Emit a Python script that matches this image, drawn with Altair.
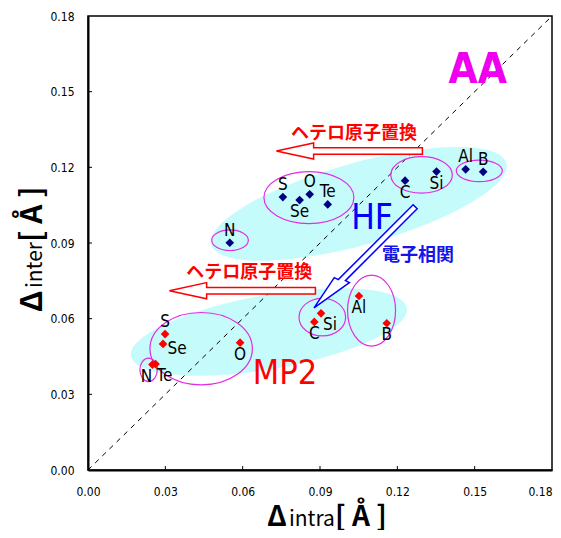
import altair as alt
import pandas as pd

# ---------------- data ----------------
elements = ["S", "Se", "O", "Te", "N", "C", "Si", "Al", "B"]
hf_x = [0.0756, 0.0821, 0.0860, 0.0930, 0.0550, 0.1230, 0.1352, 0.1465, 0.1533]
hf_y = [0.1082, 0.1070, 0.1093, 0.1053, 0.0901, 0.1147, 0.1183, 0.1192, 0.1182]
hf_label_pos = ["above", "below", "above", "above", "above", "below", "below", "above", "above"]
mp2_x = [0.0299, 0.0291, 0.0590, 0.0262, 0.0250, 0.0878, 0.0904, 0.1051, 0.1159]
mp2_y = [0.0539, 0.0500, 0.0505, 0.0420, 0.0418, 0.0587, 0.0621, 0.0690, 0.0582]
mp2_label_pos = ["above", "right", "below", "belowright", "belowleft", "below", "belowright", "below", "below"]
tick_values = [0.00, 0.03, 0.06, 0.09, 0.12, 0.15, 0.18]

# ---------------- layout / style ----------------
W, H = 464, 454
NARROW = "Liberation Sans Narrow, DejaVu Sans Condensed, Arial Narrow, sans-serif"
JP = "Noto Sans CJK JP"
xs = alt.Scale(domain=[0, 0.18], nice=False, zero=False)
ys = alt.Scale(domain=[0, 0.18], nice=False, zero=False)
AX_X = alt.Axis(values=tick_values, format=".2f", title=None, labelPadding=16, grid=False,
                ticks=False, labelFlush=False,
                labelAlign=alt.expr("datum.value >= 0.179 ? 'right' : 'center'"))
AX_Y = alt.Axis(values=tick_values, format=".2f", title=None, labelPadding=14, grid=False,
                ticks=False, labelFlush=False)


def ellipse_path(ratio):
    k = 0.5523
    r = ratio
    return (f"M -1 0 C -1 {-k*r:.4f} {-k:.4f} {-r:.4f} 0 {-r:.4f} "
            f"C {k:.4f} {-r:.4f} 1 {-k*r:.4f} 1 0 "
            f"C 1 {k*r:.4f} {k:.4f} {r:.4f} 0 {r:.4f} "
            f"C {-k:.4f} {r:.4f} -1 {k*r:.4f} -1 0 Z")


# annotation shapes (centre in data units, semi-axes in px, rotation in deg)
cyan_ell = pd.DataFrame({
    "x": [0.1051, 0.0702], "y": [0.1055, 0.0547],
    "a": [153, 140], "b": [41, 37], "ang": [344.5, 350.0]})
mag_ell = pd.DataFrame({
    "x": [0.0857, 0.1294, 0.1518, 0.0551, 0.0439, 0.0235, 0.0909, 0.1100],
    "y": [0.1080, 0.1170, 0.1186, 0.0911, 0.0481, 0.0397, 0.0606, 0.0632],
    "a": [45, 30.8, 23, 18.3, 51.2, 8.7, 23.3, 24],
    "b": [26, 18.3, 10.8, 10.3, 36.2, 11.7, 18.8, 35.5],
    "ang": [0, 0, 0, 0, 0, 0, 0, 0]})
for df in (cyan_ell, mag_ell):
    df["path"] = [ellipse_path(b / a) for a, b in zip(df["a"], df["b"])]
    df["size"] = [(2 * a) ** 2 for a in df["a"]]

red_arrow_path = ("M -1 0 L -0.49 -0.11 L -0.49 -0.045 L 1 -0.045 L 1 0.045 "
                  "L -0.49 0.045 L -0.49 0.11 Z")
blue_arrow_path = ("M -1 -0.04 L 0.42 -0.04 L 0.40 -0.10 L 1 0 L 0.50 0.10 "
                   "L 0.48 0.04 L -1 0.04 Z")
red_arrows = pd.DataFrame({"x": [0.1014, 0.0599], "y": [0.1265, 0.0711]})
blue_arrow = pd.DataFrame({"x": [0.1073], "y": [0.0843]})

offsets = {"above": (0, -12), "below": (0, 12), "right": (14, 5),
           "belowleft": (-6, 12), "belowright": (9, 12)}

pts = pd.concat([
    pd.DataFrame({"el": elements, "x": hf_x, "y": hf_y, "pos": hf_label_pos, "s": "HF"}),
    pd.DataFrame({"el": elements, "x": mp2_x, "y": mp2_y, "pos": mp2_label_pos, "s": "MP2"}),
], ignore_index=True)


def X(f="x"):
    return alt.X(f"{f}:Q", scale=xs, axis=AX_X)


def Y(f="y"):
    return alt.Y(f"{f}:Q", scale=ys, axis=AX_Y)


layers = []

# cyan ellipses
layers.append(alt.Chart(cyan_ell).mark_point(filled=True, color="#c6fbfb", opacity=1, strokeWidth=0).encode(
    x=X(), y=Y(),
    shape=alt.Shape("path:N", scale=None),
    size=alt.Size("size:Q", scale=None),
    angle=alt.Angle("ang:Q", scale=None)))

# diagonal dashed line
diag = pd.DataFrame({"x": [tick_values[0], tick_values[-1]], "y": [tick_values[0], tick_values[-1]]})
layers.append(alt.Chart(diag).mark_line(color="black", strokeWidth=1, strokeDash=[5, 5]).encode(x=X(), y=Y()))

# magenta ellipses
layers.append(alt.Chart(mag_ell).mark_point(filled=False, color="#e22ee2", opacity=1, strokeWidth=1.2).encode(
    x=X(), y=Y(),
    shape=alt.Shape("path:N", scale=None),
    size=alt.Size("size:Q", scale=None),
    angle=alt.Angle("ang:Q", scale=None)))

# arrows
layers.append(alt.Chart(red_arrows).mark_point(
    shape=red_arrow_path, filled=True, fill="white", stroke="#ff0000", strokeWidth=1.5,
    opacity=1, size=146 ** 2).encode(x=X(), y=Y()))
layers.append(alt.Chart(blue_arrow).mark_point(
    shape=blue_arrow_path, filled=True, fill="white", stroke="#0000ff", strokeWidth=1.5,
    opacity=1, size=143 ** 2, angle=135).encode(x=X(), y=Y()))

# points
layers.append(alt.Chart(pts).mark_point(shape="diamond", filled=True, opacity=1, size=75).encode(
    x=X(), y=Y(),
    color=alt.Color("s:N", scale=alt.Scale(domain=["HF", "MP2"], range=["#000080", "#ff0000"]),
                    legend=None)))

# point labels
for pos, (dx, dy) in offsets.items():
    layers.append(alt.Chart(pts).transform_filter(alt.datum.pos == pos).mark_text(
        font=NARROW, fontSize=17, color="black", dx=dx, dy=dy, align="center", baseline="middle"
    ).encode(x=X(), y=Y(), text="el:N"))

# inward ticks
tk = pd.DataFrame({"v": tick_values[1:-1]})
layers.append(alt.Chart(tk).mark_rule(color="black", strokeWidth=1).encode(
    x=X("v"), y=alt.value(H), y2=alt.value(H - 4)))
layers.append(alt.Chart(tk).mark_rule(color="black", strokeWidth=1).encode(
    y=Y("v"), x=alt.value(0), x2=alt.value(4)))


# big annotation texts
def ann(x, y, text, color, size, font, weight="bold"):
    d = pd.DataFrame({"x": [x], "y": [y], "t": [text]})
    return alt.Chart(d).mark_text(font=font, fontSize=size, fontWeight=weight, color=color,
                                  align="center", baseline="middle").encode(x=X(), y=Y(), text="t:N")


layers.append(ann(0.1512, 0.1586, "AA", "#ee00ee", 42, NARROW))
layers.append(ann(0.1102, 0.0999, "HF", "#0000ff", 35, NARROW, "normal"))
layers.append(ann(0.0764, 0.0381, "MP2", "#ff0000", 34, NARROW, "normal"))
layers.append(ann(0.1032, 0.1332, "ヘテロ原子置換", "#ff0000", 18, JP))
layers.append(ann(0.0626, 0.0783, "ヘテロ原子置換", "#ff0000", 18, JP))
layers.append(ann(0.1280, 0.0849, "電子相関", "#1515e8", 18, JP))


# axis titles
def title_part(text, x, y, size, weight, angle=0):
    d = pd.DataFrame({"t": [text]})
    return alt.Chart(d).mark_text(font=JP, fontSize=size, fontWeight=weight, color="black",
                                  align="left", baseline="alphabetic", angle=angle).encode(
        x=alt.value(x), y=alt.value(y), text="t:N")


BR = "[\u00a0Å\u00a0]"
layers.append(title_part("Δ", 179, 510, 28, "bold"))
layers.append(title_part("intra", 201, 510, 21, "normal"))
layers.append(title_part(BR, 247, 510, 28, "bold"))
layers.append(title_part("Δ", -46, 296, 30, "bold", 270))
layers.append(title_part("inter", -46, 272, 21, "normal", 270))
layers.append(title_part(BR, -46, 226, 30, "bold", 270))

chart = alt.layer(*layers).properties(
    width=W, height=H, autosize="none",
    padding={"left": 80, "top": 8, "right": 1, "bottom": 60},
).configure_view(stroke="black", strokeWidth=1.5).configure_axis(
    labelFont=NARROW, labelFontSize=12, labelColor="black",
    domainColor="black", domainWidth=2)

chart.save("out.html", embed_options={"renderer": "svg", "actions": False})
